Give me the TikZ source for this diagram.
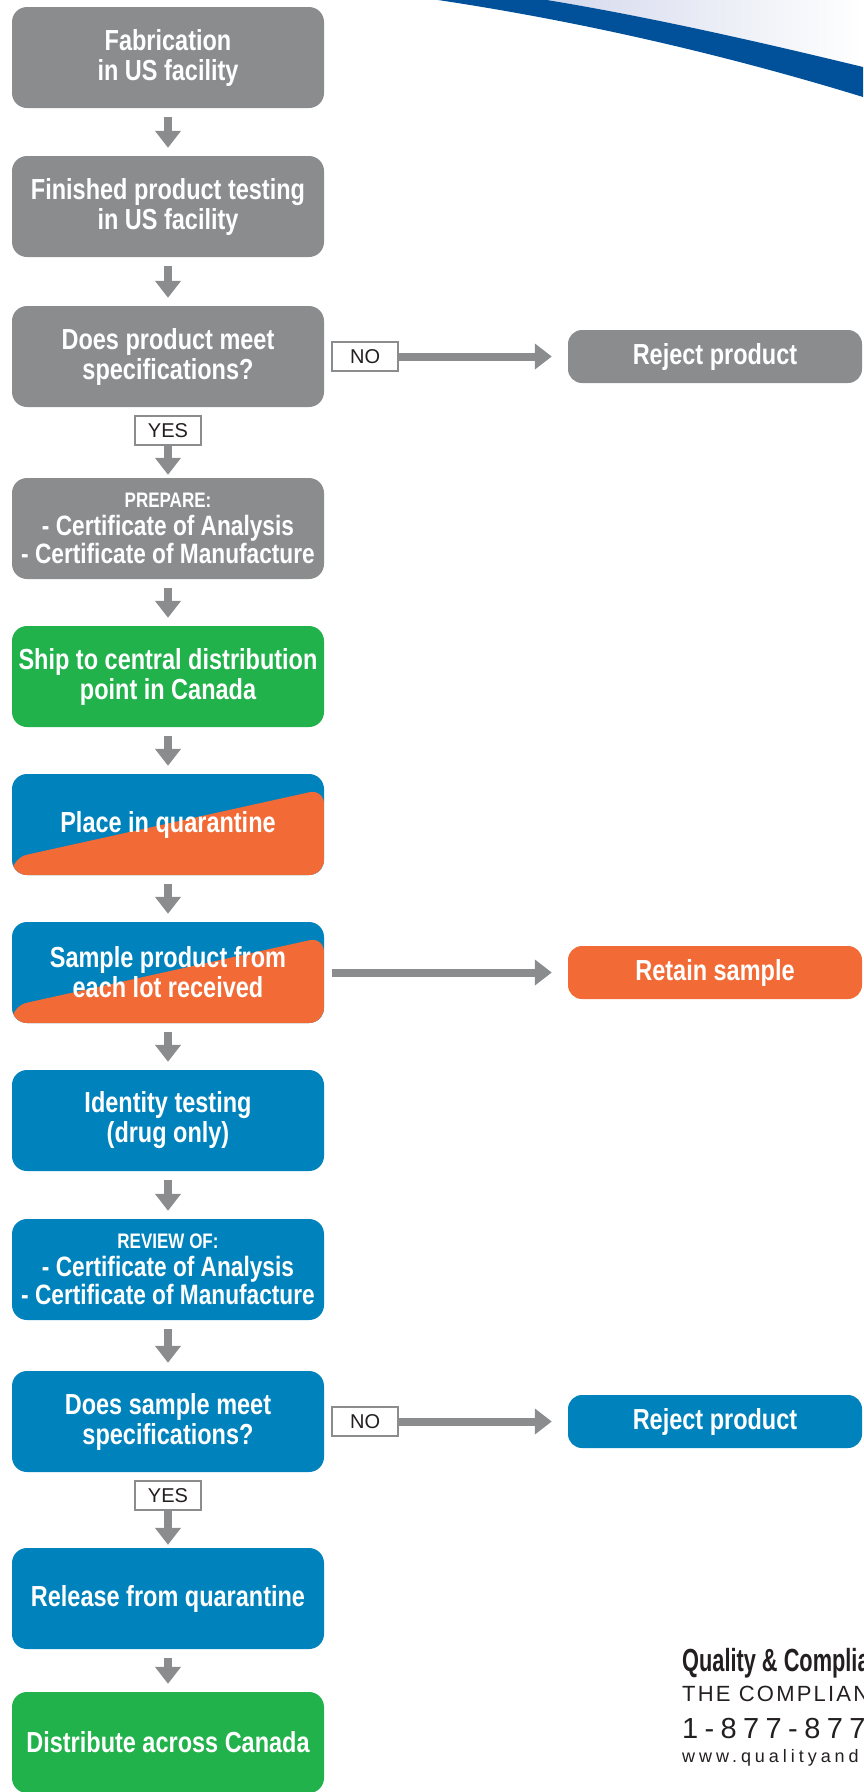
\documentclass[tikz,border=0pt]{standalone}
\usepackage{fontspec}
\setmainfont{Liberation Sans}
\newfontfamily\condfont{Liberation Sans}[FakeStretch=0.81]
\newfontfamily\brandfont{Liberation Sans}[FakeStretch=0.68]
\newfontfamily\trackfont{Liberation Sans}[LetterSpace=10]
\usetikzlibrary{arrows.meta,positioning}

\definecolor{cgrey}{HTML}{8A8C8E}
\definecolor{cgreen}{HTML}{22B24C}
\definecolor{cblue}{HTML}{0082BC}
\definecolor{corange}{HTML}{F26A36}
\definecolor{cswoosh}{HTML}{00519A}
\definecolor{cswooshlight}{HTML}{D4D9EC}
\definecolor{cink}{HTML}{231F20}

\begin{document}
\begin{tikzpicture}[x=1pt,y=-1pt,
    stepbox/.style={rounded corners=15pt,minimum width=312pt,minimum height=101pt,
      inner sep=0pt,align=center,text=white,font=\condfont\bfseries\fontsize{29}{30}\selectfont},
    greybox/.style={stepbox,fill=cgrey},
    greenbox/.style={stepbox,fill=cgreen},
    bluebox/.style={stepbox,fill=cblue},
    splitbox/.style={stepbox,fill=cblue,path picture={
      \fill[corange] ([yshift=17pt]path picture bounding box.south west)
        -- ([yshift=-15pt]path picture bounding box.north east)
        |- (path picture bounding box.south west) -- cycle;}},
    listbox/.style={font=\condfont\bfseries\fontsize{28}{28}\selectfont},
    sidebox/.style={rounded corners=14pt,minimum width=294pt,minimum height=53pt,
      inner sep=0pt,text=white,font=\condfont\bfseries\fontsize{29}{30}\selectfont},
    tagbox/.style={draw=cgrey,line width=2pt,fill=white,minimum width=66pt,minimum height=29pt,
      inner sep=0pt,text=cink,font=\fontsize{20}{20}\selectfont},
    flow/.style={cgrey,line width=8pt,-{Triangle[width=25pt,length=17pt]}}]
        \useasboundingbox (0,0) rectangle (863,1792);

        % swoosh in the top corner
        \shade[left color=cswooshlight,right color=white] (547,0) .. controls (650,17) and (760,42) .. (863,67) -- (863,0) -- cycle;
        \fill[cswoosh] (438,0) .. controls (578,21) and (723,54) .. (863,97) -- (863,67) .. controls (760,42) and (650,17) .. (547,0) -- cycle;

        \node[greybox] (fab) at (168,57.5) {Fabrication\\in US facility};
        \node[greybox] (test) at (168,206.5) {Finished product testing\\in US facility};
        \node[greybox] (spec) at (168,356.5) {Does product meet\\specifications?};
        \node[greybox,listbox] (prep) at (168,528.5) {{\fontsize{21}{24}\selectfont PREPARE:}\\- Certificate of Analysis\\- Certificate of Manufacture};
        \node[greenbox] (ship) at (168,676.5) {Ship to central distribution\\point in Canada};
        \node[splitbox] (quar) at (168,824.5) {Place in quarantine};
        \node[splitbox] (samp) at (168,972.5) {Sample product from\\each lot received};
        \node[bluebox] (ident) at (168,1120.5) {Identity testing\\(drug only)};
        \node[bluebox,listbox] (review) at (168,1269.5) {{\fontsize{21}{24}\selectfont REVIEW OF:}\\- Certificate of Analysis\\- Certificate of Manufacture};
        \node[bluebox] (check) at (168,1421.5) {Does sample meet\\specifications?};
        \node[bluebox] (release) at (168,1598.5) {Release from quarantine};
        \node[greenbox] (dist) at (168,1742.5) {Distribute across Canada};

        \node[sidebox,fill=cgrey] (reject1) at (715,356.5) {Reject product};
        \node[sidebox,fill=corange] (retain) at (715,972.5) {Retain sample};
        \node[sidebox,fill=cblue] (reject2) at (715,1421.5) {Reject product};

        \node[tagbox,below=8pt of spec] (yes1) {YES};
        \node[tagbox,right=7pt of spec] (no1) {NO};
        \node[tagbox,below=8pt of check] (yes2) {YES};
        \node[tagbox,right=7pt of check] (no2) {NO};

        \draw[flow,shorten <=9pt,shorten >=8pt] (fab) -- (test);
        \draw[flow,shorten <=9pt,shorten >=8pt] (test) -- (spec);
        \draw[flow,shorten >=3pt] (yes1) -- (prep);
        \draw[flow,shorten >=16pt] (no1) -- (reject1);
        \draw[flow,shorten <=9pt,shorten >=8pt] (prep) -- (ship);
        \draw[flow,shorten <=9pt,shorten >=8pt] (ship) -- (quar);
        \draw[flow,shorten <=9pt,shorten >=8pt] (quar) -- (samp);
        \draw[flow,shorten <=8pt,shorten >=16pt] (samp) -- (retain);
        \draw[flow,shorten <=9pt,shorten >=8pt] (samp) -- (ident);
        \draw[flow,shorten <=9pt,shorten >=8pt] (ident) -- (review);
        \draw[flow,shorten <=9pt,shorten >=8pt] (review) -- (check);
        \draw[flow,shorten >=3pt] (yes2) -- (release);
        \draw[flow,shorten >=16pt] (no2) -- (reject2);
        \draw[flow,shorten <=9pt,shorten >=8pt] (release) -- (dist);

        % company details, cut by the page edge
        \node[anchor=base west,inner sep=0pt,text=cink,font=\brandfont\bfseries\fontsize{32}{32}\selectfont] (brand) at (682,1671) {Quality \& Complia};
        \node[anchor=base west,inner sep=0pt,text=cink,font=\trackfont\fontsize{22}{22}\selectfont] (motto) at (682,1701) {THE COMPLIAN};
        \node[anchor=base west,inner sep=0pt,text=cink,font=\trackfont\addfontfeature{LetterSpace=22}\fontsize{29}{29}\selectfont] (phone) at (682,1738) {1-877-877};
        \node[anchor=base west,inner sep=0pt,text=cink,font=\trackfont\addfontfeature{LetterSpace=22}\fontsize{18}{18}\selectfont] (web) at (682,1762) {www.qualityand};
\end{tikzpicture}
\end{document}
